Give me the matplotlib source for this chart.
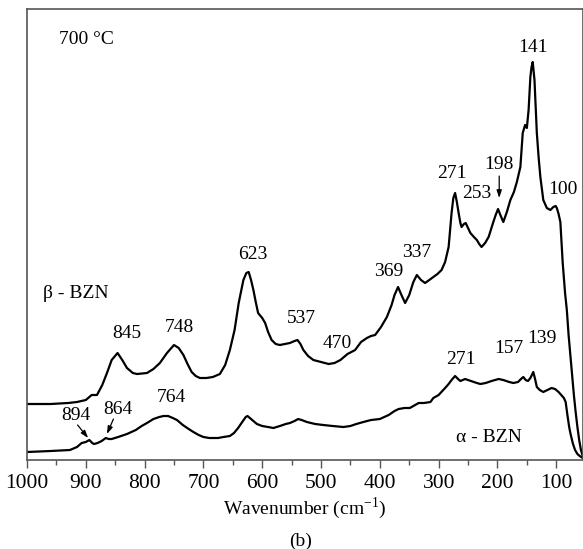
import matplotlib
matplotlib.use("Agg")
import matplotlib.pyplot as plt
import numpy as np

plt.rcParams['font.family'] = ['Liberation Serif', 'DejaVu Serif']

# beta-BZN spectrum (upper curve), wavenumber in cm-1, intensity in arb. units
beta_wn = [1000, 960, 930, 915, 900, 890, 881, 872, 864, 856, 846, 838, 830, 820, 813,
           796, 785, 774, 762, 750, 742, 734, 727, 720, 713, 706, 695, 684, 672, 663,
           655, 647, 640, 632, 627, 623, 619, 615, 611, 607, 600, 595, 590, 584, 577,
           570, 561, 553, 545, 540, 535, 530, 522, 513, 500, 487, 477, 467, 455, 442,
           432, 422, 415, 408, 398, 388, 380, 375, 369, 364, 357, 350, 343, 337, 330,
           323, 316, 309, 302, 295, 289, 283, 278, 275, 272, 269, 266, 263, 261, 257,
           254, 250, 246, 240, 235, 231, 227, 221, 215, 207, 203, 199, 195, 190, 184,
           178, 172, 167, 161, 157, 153, 150, 147, 144, 142, 140, 137, 133, 130, 127,
           122, 116, 110, 105, 101, 99, 96, 93, 89, 85, 82, 79, 76, 73, 70, 67, 64, 61,
           58, 55]
beta_int = [56, 56, 57, 58, 60, 65, 65, 75, 87, 100, 107, 100, 92, 87, 86,
            87, 91, 97, 107, 115, 112, 105, 96, 88, 84, 82, 82, 83, 86, 95,
            110, 130, 157, 180, 187, 188, 180, 170, 158, 147, 142, 137, 128, 120, 116,
            115, 116, 117, 119, 120, 116, 110, 104, 100, 98, 96, 97, 100, 106, 110,
            118, 122, 124, 125, 133, 143, 155, 165, 173, 166, 157, 165, 178, 185, 180,
            177, 180, 183, 186, 190, 198, 213, 247, 262, 267, 258, 247, 237, 233, 236,
            237, 232, 227, 223, 220, 216, 213, 217, 223, 238, 245, 251, 245, 238, 248,
            260, 268, 278, 293, 327, 335, 332, 350, 383, 393, 398, 380, 327, 303, 283,
            260, 252, 250, 253, 254, 252, 246, 238, 197, 167, 150, 125, 105, 85, 65, 48,
            33, 20, 10, 4]

# alpha-BZN spectrum (lower curve)
alpha_wn = [1000, 960, 927, 915, 907, 900, 894, 889, 886, 880, 873, 866, 861, 856, 845,
            830, 815, 805, 796, 785, 775, 768, 760, 752, 745, 735, 725, 717, 708, 700,
            690, 675, 666, 655, 648, 641, 634, 628, 625, 621, 615, 609, 600, 590, 581,
            570, 560, 553, 545, 539, 533, 524, 510, 496, 480, 462, 450, 440, 428, 415,
            400, 385, 375, 368, 358, 349, 340, 334, 325, 314, 309, 300, 289, 283, 278,
            272, 267, 263, 259, 255, 245, 235, 229, 220, 210, 198, 190, 180, 173, 165,
            160, 156, 152, 148, 144, 139, 136, 133, 128, 122, 115, 108, 102, 96, 90,
            87, 84, 81, 78, 76, 72, 68, 64, 60, 55]
alpha_int = [8, 9, 10, 13, 17, 18, 20, 17, 16, 17, 19, 22, 21, 21, 23,
             26, 30, 34, 37, 41, 43, 44, 44, 42, 40, 35, 31, 28, 25, 23,
             22, 22, 23, 24, 27, 32, 38, 43, 44, 42, 39, 36, 34, 33, 32,
             34, 36, 37, 39, 41, 40, 38, 36, 35, 34, 33, 34, 36, 38, 40,
             41, 45, 49, 51, 52, 52, 55, 57, 57, 58, 62, 65, 72, 76, 80,
             84, 81, 79, 80, 81, 79, 77, 76, 77, 79, 81, 80, 78, 77, 78,
             81, 83, 80, 79, 82, 88, 81, 73, 70, 68, 70, 72, 71, 68, 64,
             62, 58, 45, 33, 27, 17, 10, 6, 4, 2]

xticks = [1000, 900, 800, 700, 600, 500, 400, 300, 200, 100]

fig = plt.figure(figsize=(5.83, 5.49), dpi=100)
ax = fig.add_axes([0.0463, 0.1621, 0.9537, 0.8215])

ax.plot(beta_wn, beta_int, color='black', lw=1.6)
ax.plot(alpha_wn, alpha_int, color='black', lw=1.6)

ax.set_xlim(1000, 54.5)
ax.set_ylim(0, 451)
ax.set_xticks(xticks)
ax.set_xticks(np.arange(950, 50, -100), minor=True)
ax.set_yticks([])
ax.tick_params(axis='x', which='major', direction='out', length=6, width=1.0,
               labelsize=15.5, pad=4, color='#555555')
ax.tick_params(axis='x', which='minor', direction='out', length=3.5, width=1.0,
               color='#555555')
for s in ax.spines.values():
    s.set_color('#555555')
    s.set_linewidth(1.2)

ax.set_xlabel(r'Wavenumber (cm$^{\mathregular{-1}}$)', fontsize=14, labelpad=2)
fig.text(0.515, 0.0146, '(b)', fontsize=14, ha='center', va='center')

fs = 14
ax.text(945.6, 421, '700 °C', fontsize=fs, ha='left', va='center')
ax.text(972.8, 167, 'β - BZN', fontsize=fs, ha='left', va='center')
ax.text(214, 23, 'α - BZN', fontsize=fs, ha='center', va='center')

labels = [('845', 830, 127), ('748', 741, 133), ('894', 917, 45), ('864', 845, 51),
          ('764', 754, 63), ('623', 616, 206), ('537', 533, 142), ('470', 473, 117),
          ('369', 385, 189), ('337', 337, 208), ('271', 278, 287), ('253', 235, 267),
          ('198', 198, 296), ('141', 139, 413), ('100', 88, 271), ('271', 262, 101),
          ('157', 180, 112), ('139', 124.5, 122)]
for txt, x, y in labels:
    ax.text(x, y, txt, fontsize=fs, ha='center', va='center')

arrow = dict(arrowstyle='-|>,head_length=0.45,head_width=0.15', color='black',
             lw=0.9, shrinkA=0, shrinkB=0)
ax.annotate('', xy=(197, 262), xytext=(197, 284), arrowprops=arrow)
ax.annotate('', xy=(896, 22), xytext=(914, 35), arrowprops=arrow)
ax.annotate('', xy=(864, 26), xytext=(853, 41), arrowprops=arrow)

fig.savefig('out.png', dpi=100)
